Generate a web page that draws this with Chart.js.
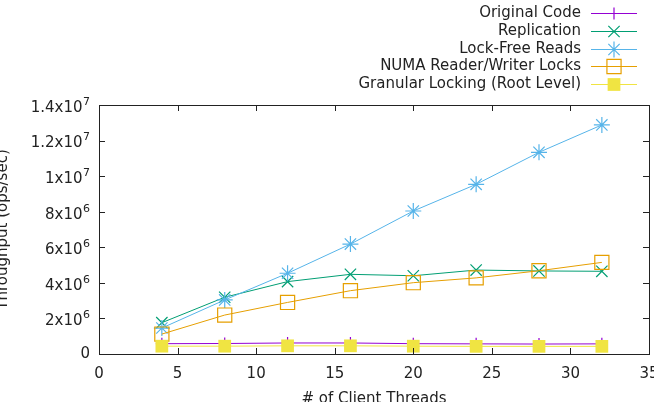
<!DOCTYPE html>
<html>
<head>
<meta charset="utf-8">
<script src="https://cdn.jsdelivr.net/npm/chart.js@4/dist/chart.umd.min.js"></script>
<style>
  html, body { margin: 0; padding: 0; background: #fff; }
  #wrap { width: 654px; height: 402px; position: relative; }
</style>
</head>
<body>
<div id="wrap"><canvas id="chart"></canvas></div>
<script>
// ── Data ───────────────────────────────────────────────────────────────────
const threads = [4, 8, 12, 16, 20, 24, 28, 32];

const seriesNames = [
  "Original Code",
  "Replication",
  "Lock-Free Reads",
  "NUMA Reader/Writer Locks",
  "Granular Locking (Root Level)",
];

const originalCode = [0.58e6, 0.59e6, 0.62e6, 0.62e6, 0.58e6, 0.57e6, 0.56e6, 0.57e6];
const replication  = [1.76e6, 3.19e6, 4.07e6, 4.48e6, 4.40e6, 4.72e6, 4.67e6, 4.65e6];
const lockFree     = [1.46e6, 3.04e6, 4.54e6, 6.18e6, 8.04e6, 9.54e6, 11.34e6, 12.88e6];
const numaLocks    = [1.12e6, 2.19e6, 2.90e6, 3.56e6, 4.01e6, 4.28e6, 4.68e6, 5.15e6];
const granular     = [0.44e6, 0.44e6, 0.46e6, 0.46e6, 0.44e6, 0.43e6, 0.43e6, 0.43e6];

// y tick labels as [mantissa, exponent]
const yTickLabels = {
  0: ["0", ""],
  2e6: ["2x10", "6"],
  4e6: ["4x10", "6"],
  6e6: ["6x10", "6"],
  8e6: ["8x10", "6"],
  1e7: ["1x10", "7"],
  1.2e7: ["1.2x10", "7"],
  1.4e7: ["1.4x10", "7"],
};

// ── Styling ────────────────────────────────────────────────────────────────
const FONT = "'DejaVu Sans', sans-serif";
const COLORS = ["#9400d3", "#009e73", "#56b4e9", "#e69f00", "#f0e442"];
const AXIS_COLOR = "#222";

function toPoints(values) {
  return threads.map((t, i) => ({ x: t, y: values[i] }));
}

function series(idx, values, style, radius, filled, order) {
  return {
    label: seriesNames[idx],
    data: toPoints(values),
    borderColor: COLORS[idx],
    backgroundColor: filled ? COLORS[idx] : "rgba(0,0,0,0)",
    borderWidth: 1,
    pointStyle: style,
    pointRadius: radius,
    pointBorderWidth: filled ? 0 : 1.2,
    pointBackgroundColor: filled ? COLORS[idx] : "rgba(0,0,0,0)",
    pointBorderColor: COLORS[idx],
    tension: 0,
    order: order,
  };
}

const datasets = [
  series(0, originalCode, "cross", 6, false, 5),
  series(1, replication, "crossRot", 8, false, 4),
  series(2, lockFree, "star", 8, false, 3),
  series(3, numaLocks, "rect", 10, false, 2),
  series(4, granular, "rect", 9, true, 1),
];

// labels may stick out of the plot box, like gnuplot does
function noLabelPadding(scale) {
  scale._calculatePadding = function () {
    this.paddingLeft = this.paddingRight = this.paddingTop = this.paddingBottom = 0;
  };
}

// border, mirrored inward ticks, y labels with exponents, axis titles and key
const frame = {
  id: "frame",
  afterDraw(chart) {
    const { ctx, chartArea: a, scales } = chart;
    const len = 6;
    ctx.save();
    ctx.strokeStyle = AXIS_COLOR;
    ctx.lineWidth = 1;
    ctx.strokeRect(a.left + 0.5, a.top + 0.5, a.right - a.left, a.bottom - a.top);

    ctx.beginPath();
    scales.x.ticks.forEach((t) => {
      const px = Math.round(scales.x.getPixelForValue(t.value)) + 0.5;
      ctx.moveTo(px, a.bottom); ctx.lineTo(px, a.bottom - len);
      ctx.moveTo(px, a.top); ctx.lineTo(px, a.top + len);
    });
    scales.y.ticks.forEach((t) => {
      const py = Math.round(scales.y.getPixelForValue(t.value)) + 0.5;
      ctx.moveTo(a.left, py); ctx.lineTo(a.left + len, py);
      ctx.moveTo(a.right, py); ctx.lineTo(a.right - len, py);
    });
    ctx.stroke();

    // y tick labels: mantissa plus raised exponent
    ctx.fillStyle = AXIS_COLOR;
    ctx.textAlign = "right";
    ctx.textBaseline = "middle";
    scales.y.ticks.forEach((t) => {
      const lab = yTickLabels[t.value];
      if (!lab) return;
      const py = scales.y.getPixelForValue(t.value);
      const right = a.left - 9;
      if (lab[1]) {
        ctx.font = "11px " + FONT;
        const ew = ctx.measureText(lab[1]).width;
        ctx.fillText(lab[1], right, py - 3);
        ctx.font = "15px " + FONT;
        ctx.fillText(lab[0], right - ew - 0.5, py + 3);
      } else {
        ctx.font = "15px " + FONT;
        ctx.fillText(lab[0], right, py);
      }
    });

    ctx.font = "15px " + FONT;
    ctx.textAlign = "center";
    ctx.fillText("# of Client Threads", (a.left + a.right) / 2, 399);

    ctx.save();
    ctx.translate(3, (a.top + a.bottom) / 2);
    ctx.rotate(-Math.PI / 2);
    ctx.fillText("Throughput (ops/sec)", 0, 0);
    ctx.restore();

    // key
    ctx.textAlign = "right";
    chart.data.datasets.forEach((ds, i) => {
      const y = Math.round(13 + i * 17.75) + 0.5;
      ctx.fillStyle = AXIS_COLOR;
      ctx.fillText(ds.label, 581, y);
      ctx.strokeStyle = ds.borderColor;
      ctx.lineWidth = 1;
      ctx.beginPath();
      ctx.moveTo(591, y);
      ctx.lineTo(637, y);
      ctx.stroke();
      ctx.fillStyle = ds.pointBackgroundColor;
      ctx.strokeStyle = ds.pointBorderColor;
      ctx.lineWidth = ds.pointBorderWidth;
      Chart.helpers.drawPoint(ctx, {
        pointStyle: ds.pointStyle,
        radius: ds.pointRadius,
        rotation: 0,
        borderWidth: ds.pointBorderWidth,
      }, 614, y);
    });
    ctx.restore();
  },
};

new Chart(document.getElementById("chart"), {
  type: "line",
  data: { datasets },
  options: {
    responsive: true,
    maintainAspectRatio: false,
    animation: false,
    layout: { autoPadding: false, padding: { top: 105, right: 5, left: 0, bottom: 0 } },
    plugins: { legend: { display: false }, tooltip: { enabled: false } },
    scales: {
      x: {
        type: "linear",
        min: 0,
        max: 35,
        grid: { display: false, drawTicks: false },
        border: { display: false },
        ticks: {
          stepSize: 5,
          color: AXIS_COLOR,
          padding: 11,
          maxRotation: 0,
          font: { family: FONT, size: 15 },
        },
        beforeFit: noLabelPadding,
        afterFit(scale) {
          scale.height = 48;
        },
      },
      y: {
        min: 0,
        max: 1.4e7,
        grid: { display: false, drawTicks: false },
        border: { display: false },
        ticks: {
          stepSize: 2e6,
          display: false,
        },
        beforeFit: noLabelPadding,
        afterFit(scale) {
          scale.width = 99;
        },
      },
    },
  },
  plugins: [frame],
});
</script>
</body>
</html>
